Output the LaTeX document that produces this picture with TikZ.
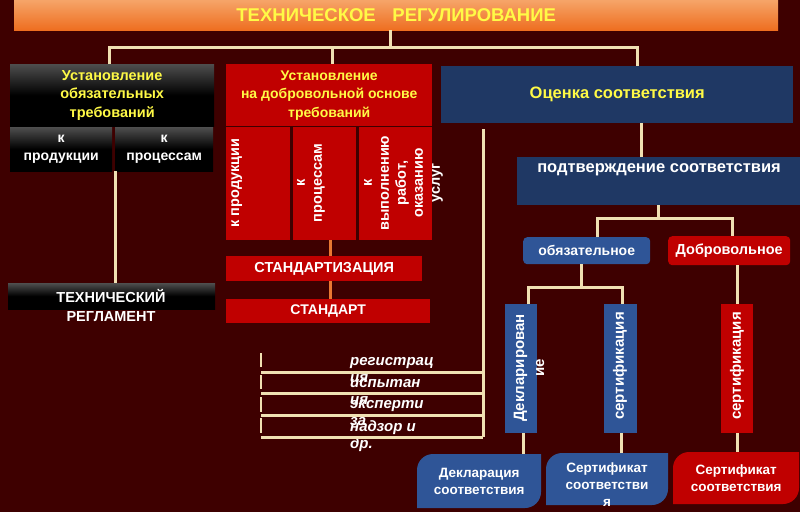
\documentclass[tikz,border=0pt]{standalone}
\usepackage{fontspec}
\setmainfont{Liberation Sans}
\definecolor{bgc}{RGB}{62,0,0}
\definecolor{redb}{RGB}{192,0,0}
\definecolor{navy}{RGB}{31,56,100}
\definecolor{bluel}{RGB}{47,85,151}
\definecolor{cream}{RGB}{240,224,178}
\definecolor{olin}{RGB}{232,120,50}
\definecolor{yel}{RGB}{255,250,70}
\definecolor{tittop}{RGB}{246,164,104}
\definecolor{titbot}{RGB}{238,110,32}
\definecolor{blktop}{RGB}{78,78,78}
\newcommand\fsz[2]{\fontsize{#1}{#2}\selectfont}
\begin{document}
\begin{tikzpicture}[x=1pt,y=-1pt,
  box/.style={rectangle, inner sep=0pt, anchor=north west, align=center, font=\bfseries\fsz{14}{18}},
  blk/.style={box, top color=blktop, bottom color=black, middle color=black, text=white},
  redbox/.style={box, fill=redb, text=white},
  conn/.style={draw=cream, line width=3pt},
  orl/.style={draw=olin, line width=2.5pt},
  rot/.style={rotate=90, inner sep=0pt, align=center, text=white, font=\bfseries\fsz{14.5}{17}},
  ital/.style={anchor=base west, inner sep=0pt, text=white, font=\bfseries\itshape\fsz{15}{17}}]
\fill[bgc] (0,0) rectangle (800,512);
\useasboundingbox (0,0) rectangle (800,512);

% title
\node[box, top color=tittop, bottom color=titbot, minimum width=764pt, minimum height=30pt,
      text=yel, font=\bfseries\fsz{18.5}{21}] (title) at (14,0) {ТЕХНИЧЕСКОЕ\hspace{0.9em}РЕГУЛИРОВАНИЕ};

% left column
\node[blk, minimum width=204pt, minimum height=62pt, text=yel, font=\bfseries\fsz{14.5}{18.5}] (b1) at (10,64) {Установление\\обязательных\\требований};
\node[blk, minimum width=102pt, minimum height=44pt] (k1) at (10,127) {к\\продукции};
\node[blk, minimum width=98pt, minimum height=44pt] (k2) at (115,127) {к\\процессам};
\node[blk, minimum width=207pt, minimum height=26pt] (tr) at (8,283) {};
\node[align=center, inner sep=0pt, text=white, font=\bfseries\fsz{14.5}{19}] (trt) at (111,305.5) {ТЕХНИЧЕСКИЙ\\РЕГЛАМЕНТ};

% middle column
\node[redbox, minimum width=206pt, minimum height=62pt, text=yel, font=\bfseries\fsz{14}{18.5}] (b2) at (226,64) {Установление\\на добровольной основе\\требований};
\node[redbox, minimum width=64pt, minimum height=113pt] (r1) at (226,127) {};
\node[redbox, minimum width=63pt, minimum height=113pt] (r2) at (293,127) {};
\node[redbox, minimum width=73pt, minimum height=113pt] (r3) at (359,127) {};
\node[rot, anchor=north] (t1) at (231,183) {к продукции};
\node[rot, anchor=north] (t2) at (297,183) {к\\процессам};
\node[rot, anchor=north] (t3) at (364,183) {к\\выполнению\\работ,\\оказанию\\услуг};
\node[redbox, minimum width=196pt, minimum height=25pt, font=\bfseries\fsz{14.5}{18}] (st) at (226,256) {СТАНДАРТИЗАЦИЯ};
\node[redbox, minimum width=204pt, minimum height=24pt] (sd) at (226,299) {СТАНДАРТ};

% right column
\node[box, fill=navy, minimum width=352pt, minimum height=57pt, text=yel, font=\bfseries\fsz{16.5}{19}] (b3) at (441,66) {Оценка соответствия};
\node[box, fill=navy, minimum width=283pt, minimum height=48pt] (pd) at (517,157) {};
\node[inner sep=0pt, text=white, font=\bfseries\fsz{16.5}{18}] (pdt) at (659,170) {подтверждение соответствия};
\node[box, fill=bluel, rounded corners=4pt, minimum width=127pt, minimum height=27pt, text=white] (obz) at (523,237) {обязательное};
\node[box, fill=redb, rounded corners=4pt, minimum width=122pt, minimum height=29pt, text=white, font=\bfseries\fsz{14.5}{18}] (dobr) at (668,236) {Добровольное};
\node[box, fill=bluel, minimum width=32pt, minimum height=129pt] (dekl) at (505,304) {};
\node[box, fill=bluel, minimum width=33pt, minimum height=129pt] (sert) at (604,304) {};
\node[box, fill=redb, minimum width=32pt, minimum height=129pt] (sert2) at (721,304) {};
\node[rot, font=\bfseries\fsz{15}{20}] (dt) at (529,368) {Декларирован\\ие};
\node[rot, font=\bfseries\fsz{15}{20}] (st1) at (620,366) {сертификация};
\node[rot, font=\bfseries\fsz{15}{20}] (st2) at (737,366) {сертификация};

% bottom boxes (rounded top-left and bottom-right corners)
\fill[bluel] (417,508) -- (417,470) .. controls (417,461.2) and (424.2,454) .. (433,454) -- (541,454) -- (541,492) .. controls (541,500.8) and (533.8,508) .. (525,508) -- cycle;
\fill[bluel] (546,505) -- (546,469) .. controls (546,460.2) and (553.2,453) .. (562,453) -- (668,453) -- (668,489) .. controls (668,497.8) and (660.8,505) .. (652,505) -- cycle;
\fill[redb] (673,504) -- (673,468) .. controls (673,459.2) and (680.2,452) .. (689,452) -- (799,452) -- (799,488) .. controls (799,496.8) and (791.8,504) .. (783,504) -- cycle;
\node[box, minimum width=124pt, minimum height=54pt, text=white, font=\bfseries\fsz{13.5}{17}] (db1) at (417,454) {Декларация\\соответствия};
\node[box, minimum width=122pt, minimum height=52pt] (db2) at (546,453) {};
\node[align=center, inner sep=0pt, text=white, font=\bfseries\fsz{13.5}{17}] (db2t) at (607,485) {Сертификат\\соответстви\\я};
\node[box, minimum width=126pt, minimum height=52pt, text=white, font=\bfseries\fsz{13.5}{17}] (db3) at (673,452) {Сертификат\\соответствия};

% italic list
\node[ital] (reg1) at (350,365) {регистрац};
\node[ital] (reg2) at (350,382) {ия};
\node[ital] (isp1) at (350,387) {испытан};
\node[ital] (isp2) at (350,404) {ия};
\node[ital] (eks1) at (350,408) {эксперти};
\node[ital] (eks2) at (350,425) {за};
\node[ital] (nad1) at (350,431) {надзор и};
\node[ital] (nad2) at (350,448) {др.};

% connectors top
\coordinate (hub) at (390,47);
\draw[conn] (hub |- title.south) -- (hub);
\draw[conn] ([xshift=-3pt]b1.north) |- (hub) -| ([xshift=20pt]b3.north);
\draw[conn] ([xshift=3pt]b2.north |- hub) -- ([xshift=3pt]b2.north);
\draw[conn] ([xshift=3pt]k1.south east) -- ([xshift=3pt]k1.south east |- tr.north);
\draw[orl] ([xshift=6pt]r2.south) -- ([xshift=6pt]r2.south |- st.north);
\draw[orl] ([xshift=6pt]r2.south |- st.south) -- ([xshift=6pt]r2.south |- sd.north);

% connectors right
\draw[conn] ([xshift=24pt]b3.south) -- ([xshift=24pt]b3.south |- pd.north);
\path (pd.south) ++(0,13) coordinate (pj);
\draw[conn] (pd.south) -- (pj);
\draw[conn] ([xshift=11pt]obz.north) |- (pj) -| ([xshift=3pt]dobr.north);
\path ([xshift=-5pt]obz.south) ++(0,23) coordinate (oj);
\draw[conn] ([xshift=-5pt]obz.south) -- (oj);
\draw[conn] ([xshift=7pt]dekl.north) |- (oj) -| ([xshift=2pt]sert.north);
\draw[conn] (sert2.north |- dobr.south) -- (sert2.north);
\draw[conn] ([xshift=2pt]dekl.south) -- ([xshift=2pt]dekl.south |- db1.north);
\draw[conn] ([xshift=1pt]sert.south) -- ([xshift=1pt]sert.south |- db2.north);
\draw[conn] (sert2.south) -- (sert2.south |- db3.north);

% bracket lines
\coordinate (v0) at (483,129);
\coordinate (h1) at (261,372);
\coordinate (h2) at (261,393);
\coordinate (h3) at (261,415);
\coordinate (h4) at (261,437);
\draw[conn] (v0) -- (v0 |- h4);
\foreach \h in {h1,h2,h3,h4} {\draw[conn] (\h) -- (\h -| v0);}
\draw[conn, line width=2.5pt] ([yshift=19pt]h1) -- ([yshift=5pt]h1);
\draw[conn, line width=2.5pt] ([yshift=-3pt]h1) -- ([yshift=4pt]h2);
\draw[conn, line width=2.5pt] ([yshift=-4pt]h2) -- ([yshift=3pt]h3);
\draw[conn, line width=2.5pt] ([yshift=-3pt]h3) -- ([yshift=4pt]h4);
\end{tikzpicture}
\end{document}
